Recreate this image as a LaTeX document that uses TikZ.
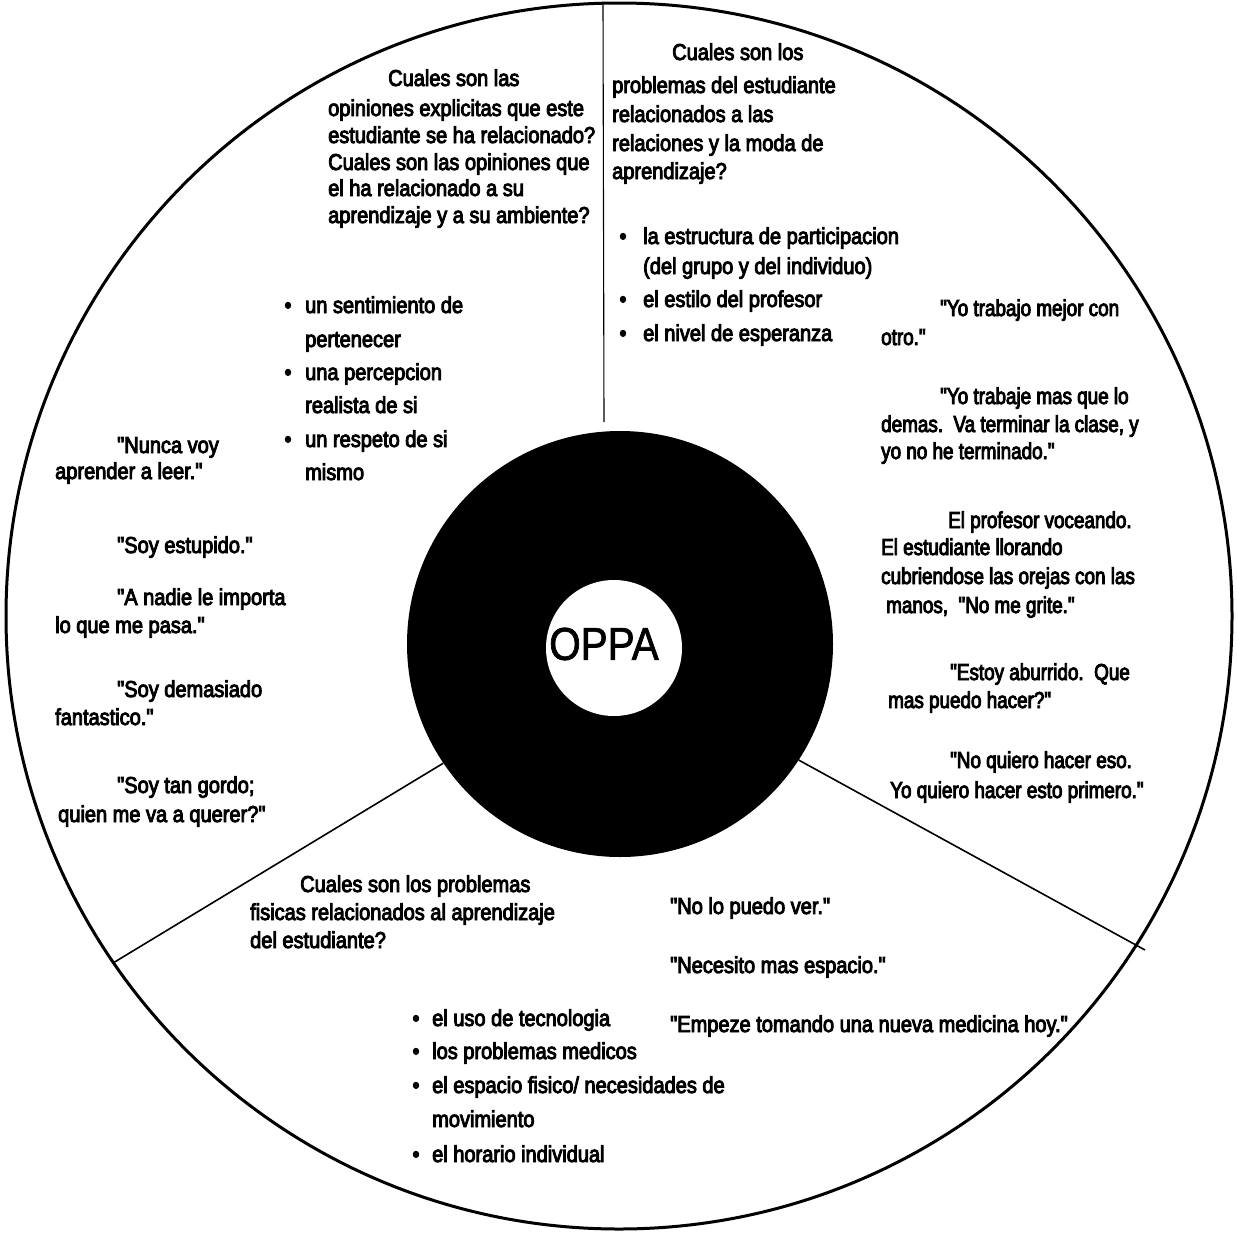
\documentclass[tikz,border=0pt]{standalone}
\usepackage{fontspec}
\newfontfamily\bodyfont{Liberation Sans}[FakeStretch=0.87,FakeBold=4]
\newfontfamily\narrowfont{Liberation Sans}[FakeStretch=0.82,FakeBold=4]
\newfontfamily\oppafont{Liberation Sans}[FakeStretch=0.88,FakeBold=1.5]
\begin{document}
\begin{tikzpicture}[x=1pt,y=-1pt,
  txt/.style={anchor=base west,inner sep=0pt,font=\bodyfont\fontsize{23}{27}\selectfont},
  ntxt/.style={anchor=base west,inner sep=0pt,font=\narrowfont\fontsize{23}{27}\selectfont},
  bul/.style={anchor=base,inner sep=0pt,font=\bodyfont\fontsize{23}{27}\selectfont},
  spoke/.style={line width=1.6pt,black}]
\useasboundingbox (0,0) rectangle (1237,1232);
% rings
\node[circle,draw=black,line width=3pt,minimum size=1226pt,inner sep=0pt] (outer) at (619,616) {};
\node[circle,fill=black,minimum size=426pt,inner sep=0pt] (disk) at (620,644) {};
\node[circle,fill=white,minimum size=136pt,inner sep=0pt] (oppa) at (614,648) {};
\node[inner sep=0pt,font=\oppafont\fontsize{46}{46}\selectfont] (oppat) at (604,644) {OPPA};
% spokes
\coordinate (vtop) at (603,3);
\coordinate (vbot) at (604,422);
\draw[line width=1.1pt] (vtop) -- (vbot);
\coordinate (lout) at (113,963);
\coordinate (rout) at (1145,950);
\draw[spoke] (lout) -- (disk.214);
\draw[spoke] (rout) -- (disk.-33);
% top-left question
\node[txt] (a1) at (388,86) {Cuales son las};
\node[txt] (a2) at (328,116) {opiniones explicitas que este};
\node[txt] (a3) at (328,143) {estudiante se ha relacionado?};
\node[txt] (a4) at (328,170) {Cuales son las opiniones que};
\node[txt] (a5) at (328,196) {el ha relacionado a su};
\node[txt] (a6) at (328,223) {aprendizaje y a su ambiente?};
% top-right question
\node[txt] (b1) at (672,60) {Cuales son los};
\node[txt] (b2) at (612,93) {problemas del estudiante};
\node[txt] (b3) at (612,122) {relacionados a las};
\node[txt] (b4) at (612,151) {relaciones y la moda de};
\node[txt] (b5) at (612,179) {aprendizaje?};
% top-right bullets
\node[bul] (bd1) at (623,244) {•};
\node[txt] (bt1) at (643,244) {la estructura de participacion};
\node[txt] (bt2) at (643,274) {(del grupo y del individuo)};
\node[bul] (bd3) at (623,307) {•};
\node[txt] (bt3) at (643,307) {el estilo del profesor};
\node[bul] (bd4) at (623,341) {•};
\node[txt] (bt4) at (643,341) {el nivel de esperanza};
% top-left bullets
\node[bul] (cd1) at (288,313) {•};
\node[txt] (ct1) at (305,313) {un sentimiento de};
\node[txt] (ct2) at (305,347) {pertenecer};
\node[bul] (cd3) at (288,380) {•};
\node[txt] (ct3) at (305,380) {una percepcion};
\node[txt] (ct4) at (305,413) {realista de si};
\node[bul] (cd5) at (288,447) {•};
\node[txt] (ct5) at (305,447) {un respeto de si};
\node[txt] (ct6) at (305,480) {mismo};
% right quotes
\node[ntxt] (r1) at (940,316) {"Yo trabajo mejor con};
\node[ntxt] (r2) at (881,345) {otro."};
\node[ntxt] (r3) at (940,404) {"Yo trabaje mas que lo};
\node[ntxt] (r4) at (881,432) {demas.\ \ Va terminar la clase, y};
\node[ntxt] (r5) at (881,459) {yo no he terminado."};
\node[ntxt] (r6) at (948,528) {El profesor voceando.};
\node[ntxt] (r7) at (881,555) {El estudiante llorando};
\node[ntxt] (r8) at (881,584) {cubriendose las orejas con las};
\node[ntxt] (r9) at (886,613) {manos,\ \ "No me grite."};
\node[ntxt] (r10) at (950,680) {"Estoy aburrido.\ \ Que};
\node[ntxt] (r11) at (888,708) {mas puedo hacer?"};
\node[ntxt] (r12) at (950,768) {"No quiero hacer eso.};
\node[ntxt] (r13) at (890,798) {Yo quiero hacer esto primero."};
% left quotes
\node[txt] (l1) at (117,453) {"Nunca voy};
\node[txt] (l2) at (55,479) {aprender a leer."};
\node[txt] (l3) at (117,553) {"Soy estupido."};
\node[txt] (l4) at (117,605) {"A nadie le importa};
\node[txt] (l5) at (55,633) {lo que me pasa."};
\node[txt] (l6) at (117,697) {"Soy demasiado};
\node[txt] (l7) at (55,725) {fantastico."};
\node[txt] (l8) at (117,793) {"Soy tan gordo;};
\node[txt] (l9) at (58,822) {quien me va a querer?"};
% bottom question
\node[txt] (d1) at (300,892) {Cuales son los problemas};
\node[txt] (d2) at (250,920) {fisicas relacionados al aprendizaje};
\node[txt] (d3) at (250,948) {del estudiante?};
% bottom bullets
\node[bul] (ed1) at (416,1026) {•};
\node[txt] (et1) at (432,1026) {el uso de tecnologia};
\node[bul] (ed2) at (416,1059) {•};
\node[txt] (et2) at (432,1059) {los problemas medicos};
\node[bul] (ed3) at (416,1093) {•};
\node[txt] (et3) at (432,1093) {el espacio fisico/ necesidades de};
\node[txt] (et4) at (432,1127) {movimiento};
\node[bul] (ed5) at (416,1162) {•};
\node[txt] (et5) at (432,1162) {el horario individual};
% bottom-right quotes
\node[txt] (f1) at (670,914) {"No lo puedo ver."};
\node[txt] (f2) at (670,973) {"Necesito mas espacio."};
\node[txt] (f3) at (670,1032) {"Empeze tomando una nueva medicina hoy."};
\end{tikzpicture}
\end{document}
